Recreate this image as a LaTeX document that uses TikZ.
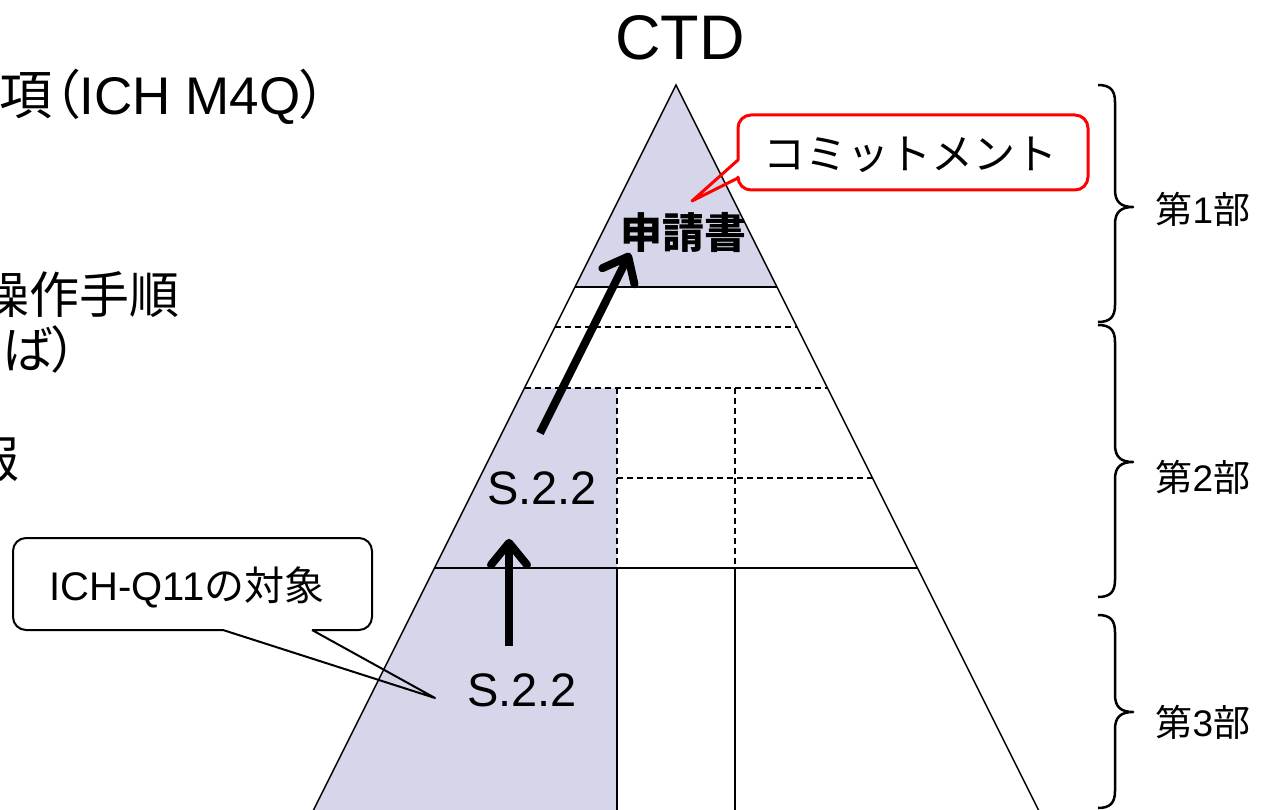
\documentclass[tikz,border=0pt]{standalone}
\usepackage{fontspec}
\setmainfont{Liberation Sans}
\newfontfamily\jp{Noto Sans CJK JP}
\newfontfamily\jpp[RawFeature=+palt]{Noto Sans CJK JP}
\usetikzlibrary{arrows.meta}
\definecolor{lav}{RGB}{214,214,235}
\newcommand\fs[1]{\fontsize{#1pt}{#1pt}\selectfont}
\newcommand\mybrace[3]{%
  \draw[brc] (1098,#1) .. controls (1110,#1) and (1115,{#1+5}) .. (1115,{#1+17})
    -- (1115,{#2-17}) .. controls (1115,{#2-5}) and (1121,#2) .. (1133,#2)
    .. controls (1121,#2) and (1115,{#2+5}) .. (1115,{#2+17})
    -- (1115,{#3-17}) .. controls (1115,{#3-5}) and (1110,#3) .. (1098,#3);}
\begin{document}
\begin{tikzpicture}[x=1pt,y=-1pt,
  tri/.style={line width=1.4pt},
  dsh/.style={line width=1.4pt, dash pattern=on 6pt off 4pt},
  bigarrow/.style={line width=8pt, -{Straight Barb[length=22pt,width=36pt,round]}},
  brc/.style={line width=2.5pt, line join=round},
  txt/.style={inner sep=0pt, anchor=center},
  ltxt/.style={inner sep=0pt, anchor=base east, font=\fs{50}},
  callout/.style={line width=2pt},
]
\useasboundingbox (0,0) rectangle (1264,810);
\fill[white] (0,0) rectangle (1264,810);

% shading
\fill[lav] (676,85) -- (575,287) -- (777,287) -- cycle;
\fill[lav] (524.5,388) -- (617,388) -- (617,812) -- (312.5,812) -- cycle;

% pyramid
\draw[tri] (312.5,812) -- (676,85) -- (1039.5,812);
\draw[tri] (575,287) -- (777,287);
\draw[tri] (434.5,568) -- (917.5,568);
\draw[tri] (617,568) -- (617,812);
\draw[tri] (735,568) -- (735,812);
\draw[dsh] (555,327) -- (797,327);
\draw[dsh] (524.5,388) -- (827.5,388);
\draw[dsh] (617,478) -- (872.5,478);
\draw[dsh] (617,388) -- (617,568);
\draw[dsh] (735,388) -- (735,568);

% texts
\node[txt, font=\fs{63}] (ctd) at (680,38) {CTD};
\node[txt, font=\fs{42}\jp\bfseries] (app) at (683,233) {申請書};
\node[txt, font=\fs{47}] (s2) at (542,488) {S.2.2};
\node[txt, font=\fs{47}] (s1) at (522,690) {S.2.2};

% left texts (cut by the page edge, as in the reference)
\node[ltxt, font=\fs{53}] (l1) at (327,115) {{\jpp 事項（}ICH M4Q{\jpp ）}};
\node[ltxt] (l2) at (180,314) {\jpp 操作手順};
\node[ltxt] (l3) at (77,368) {\jpp れば）};
\node[ltxt] (l4) at (20,477) {\jpp 報};

% arrows
\draw[bigarrow] ([xshift=-13pt,yshift=27pt]s1.north) -- ([xshift=-33pt,yshift=-34pt]s2.south);
\draw[bigarrow] ([xshift=-2pt,yshift=38pt]s2.north) -- ([xshift=-53pt,yshift=-20pt]app.center);

% callout: commitment
\node[txt, font=\fs{42}\jp] (com) at (910,155) {コミットメント};
\draw[callout, red, line width=3pt, line join=round]
  (738,178) -- (692,201) -- (738,160) [rounded corners=13pt] -- (738,115) -- (1088,115)
  -- (1088,190) -- (738,190) -- (738,178);

% callout: ICH-Q11
\node[txt, font=\fs{40}] (ich) at (187,587) {ICH-Q11{\jp の対象}};
\draw[callout, line join=round]
  (312,630) -- (435,698) -- (223,630) [rounded corners=13pt] -- (13,630) -- (13,538)
  -- (372,538) -- (372,630) -- (312,630);

% braces
\mybrace{85}{207}{322}
\mybrace{325}{462}{597}
\mybrace{615}{712}{808}
\node[txt, font=\fs{37}] (p1) at (1203,209) {{\jp 第}1{\jp 部}};
\node[txt, font=\fs{37}] (p2) at (1203,477) {{\jp 第}2{\jp 部}};
\node[txt, font=\fs{37}] (p3) at (1203,722) {{\jp 第}3{\jp 部}};
\end{tikzpicture}
\end{document}
